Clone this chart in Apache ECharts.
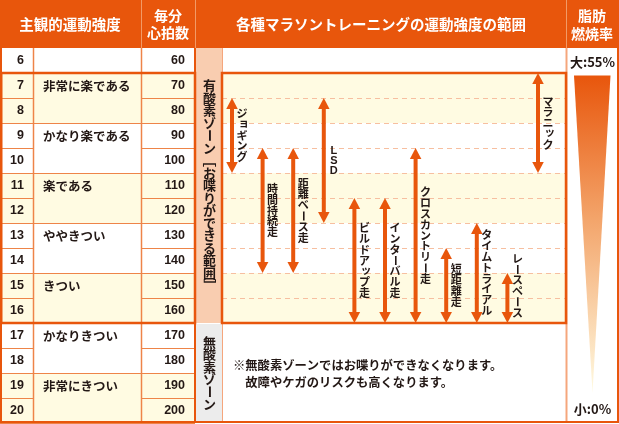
<!DOCTYPE html>
<html><head><meta charset="utf-8">
<script src="https://cdn.jsdelivr.net/npm/echarts@6/dist/echarts.min.js"></script>
<style>html,body{margin:0;padding:0;background:#fff}#c{width:619px;height:424px}</style>
</head><body><div id="c"></div>
<script>
// ---- data ----
const rpeLevels = [6,7,8,9,10,11,12,13,14,15,16,17,18,19,20];
const heartRates = [60,70,80,90,100,110,120,130,140,150,160,170,180,190,200];
const rpeGroupStart = [7,9,11,13,15,17,19];
const rpeGroupLabels = ['非常に楽である','かなり楽である','楽である','ややきつい','きつい','かなりきつい','非常にきつい'];
const trainings = ['ジョギング','時間持続走','距離ベース走','LSD','ビルドアップ走','インターバル走','クロスカントリー走','短距離走','タイムトライアル','レースペース','マラニック'];
const hrLow  = [80,100,100,80,120,120,100,140,130,150,70];
const hrHigh = [100,140,140,120,160,160,160,160,160,160,100];
const zoneLabels = ['有酸素ゾーン［お喋りができる範囲］','無酸素ゾーン'];
const zoneFrom = [60,170];
const zoneTo = [160,200];
const aerobicFrom = 70, aerobicTo = 160;
const fatLabels = ['大:55%','小:0%'];
const fatLabelRows = [60,200];
const fatTriangle = [66,193];
const headerTexts = ['主観的運動強度','毎分','心拍数','各種マラソントレーニングの運動強度の範囲','脂肪','燃焼率'];
const noteLines = ['※無酸素ゾーンではお喋りができなくなります。','　故障やケガのリスクも高くなります。'];

// ---- style ----
const ORANGE='#e8560c', LINE='#ee8448', SALMON='#f9cdb0', SEP='#f5a67c', YELLOW='#fffbe2', GRAY='#ececec', DASH='#f7bfa0', TXT='#231815';
const JP='"Noto Sans CJK JP","Noto Sans",sans-serif';
const NUM='"Liberation Sans","DejaVu Sans",sans-serif';
const C2=33, C3=141, CZ=195, CC=222, CF=566, CE=619;

function T(text,x,y,o){o=o||{};return {type:'text',x:x,y:y,rotation:o.rot||0,z2:5,style:{text:text,x:0,y:0,fill:o.fill||TXT,fontSize:o.size||13,fontWeight:o.weight||'normal',fontFamily:o.family||JP,align:o.align||'center',verticalAlign:'middle',textAlign:o.align||'center',textVerticalAlign:'middle'}};}
function R(x,y,w,h,fill){return {type:'rect',shape:{x:x,y:y,width:w,height:h},style:{fill:fill}};}
function L(x1,y1,x2,y2,stroke,w,dash){return {type:'line',shape:{x1:x1,y1:y1,x2:x2,y2:y2},style:{stroke:stroke,lineWidth:w||1,lineDash:dash||null}};}
const SMALL='ァィゥェォッャュョぁぃぅぇぉっゃゅょ';
function vtext(str,cx,cy,step,size,weight){
  const chars=Array.from(str);const top=cy-chars.length*step/2;
  return chars.map((ch,k)=>{
    let x=cx,y=top+step*k+step/2,rot=0;
    if('ー［］'.includes(ch)) rot=-Math.PI/2;
    if(SMALL.includes(ch)){x+=size*0.15;y-=size*0.15;}
    if(/[A-Za-z]/.test(ch)) return T(ch,x,y,{size:size,weight:'bold',family:NUM});
    return T(ch,x,y,{size:size,weight:weight,rot:rot});
  });
}

const chart = echarts.init(document.getElementById('c'));
const rowData = rpeLevels.map((r,i)=>[0,heartRates[i],r]);
const yAx = {type:'value',min:55,max:205,inverse:true,show:false};

const option = {
  animation:false,
  grid:[{left:0,width:619,top:48,height:375},{left:216.7,width:336.6,top:48,height:375}],
  xAxis:[{type:'value',min:0,max:619,show:false,gridIndex:0},{type:'category',data:trainings,show:false,gridIndex:1}],
  yAxis:[Object.assign({gridIndex:0},yAx),Object.assign({gridIndex:1},yAx)],
  graphic:[
    {type:'rect',z:100,shape:{x:0,y:0,width:619,height:48},style:{fill:ORANGE}},
    {type:'line',z:100,shape:{x1:C3+0.5,y1:0,x2:C3+0.5,y2:48},style:{stroke:'#f29a66',lineWidth:1}},
    {type:'line',z:100,shape:{x1:CZ+0.5,y1:0,x2:CZ+0.5,y2:48},style:{stroke:'#f29a66',lineWidth:1}},
    {type:'line',z:100,shape:{x1:CF+0.5,y1:0,x2:CF+0.5,y2:48},style:{stroke:'#f29a66',lineWidth:1}},
    Object.assign(T(headerTexts[0],70,24,{fill:'#fff',size:14.5,weight:'bold'}),{z:101}),
    Object.assign(T(headerTexts[1],168,16,{fill:'#fff',size:14,weight:'bold'}),{z:101}),
    Object.assign(T(headerTexts[2],168,33,{fill:'#fff',size:14,weight:'bold'}),{z:101}),
    Object.assign(T(headerTexts[3],381,24,{fill:'#fff',size:14.5,weight:'bold'}),{z:101}),
    Object.assign(T(headerTexts[4],592,16,{fill:'#fff',size:14,weight:'bold'}),{z:101}),
    Object.assign(T(headerTexts[5],592,34,{fill:'#fff',size:14,weight:'bold'}),{z:101}),
    Object.assign(T(noteLines[0],233,365,{size:12.3,weight:'bold',align:'left'}),{z:101}),
    Object.assign(T(noteLines[1],233,382,{size:12.3,weight:'bold',align:'left'}),{z:101})
  ],
  series:[
    { // row backgrounds
      type:'custom',xAxisIndex:0,yAxisIndex:0,z:1,data:rowData,encode:{x:0,y:1},
      renderItem:function(p,api){
        const hr=api.value(1),rpe=api.value(2);
        const yT=api.coord([0,hr-5])[1],yB=api.coord([0,hr+5])[1],h=yB-yT;
        const pair=rpe>=7?Math.floor((rpe-7)/2):-1;
        const fill=(pair>=0&&pair%2===0)?YELLOW:'#fff';
        const aer=rpe>=7&&rpe<=16;
        return {type:'group',children:[R(0,yT,CZ,h,fill),R(CC,yT,CF-CC,h,aer?fill:'#fff'),R(CF,yT,CE-CF,h,'#fff')]};
      }
    },
    { // zone column
      type:'custom',xAxisIndex:0,yAxisIndex:0,z:2,data:zoneLabels.map((t,i)=>[0,zoneFrom[i],zoneTo[i]]),encode:{x:0,y:[1,2]},
      renderItem:function(p,api){
        const i=p.dataIndex;
        const yT=api.coord([0,api.value(1)-5])[1],yB=api.coord([0,api.value(2)+5])[1];
        const ch=[R(CZ+1,yT+(i?1:0),CC-CZ-1,yB-yT-(i?1:0),i?GRAY:SALMON)];
        return {type:'group',children:ch.concat(vtext(zoneLabels[i],209.5,(yT+yB)/2,12.5,13,'bold'))};
      }
    },
    { // row lines + texts
      type:'custom',xAxisIndex:0,yAxisIndex:0,z:3,data:rowData,encode:{x:0,y:1},
      renderItem:function(p,api){
        const hr=api.value(1),rpe=api.value(2);
        const yT=api.coord([0,hr-5])[1],yB=api.coord([0,hr+5])[1],yc=(yT+yB)/2;
        const ch=[];
        const yl=yB+0.5;
        ch.push(L(0,yl,C2,yl,LINE));
        ch.push(L(C3,yl,CZ,yl,LINE));
        if(rpe===6||rpe%2===0) ch.push(L(C2,yl,C3,yl,LINE));
        if(rpe>=7&&rpe<=15) ch.push(L(CC,yl,CF,yl,DASH,1,[5,4]));
        // verticals
        ch.push(L(C2+0.5,yT,C2+0.5,yB,LINE,1.5));
        ch.push(L(C3+0.5,yT,C3+0.5,yB,LINE,1.5));
        ch.push(L(CZ,yT,CZ,yB,ORANGE,2));
        ch.push(L(CC+0.5,yT,CC+0.5,yB,SEP,1));
        ch.push(L(CF+0.5,yT,CF+0.5,yB,SEP,2));
        ch.push(L(1,yT,1,yB,ORANGE,2));
        ch.push(L(CE-1,yT,CE-1,yB,ORANGE,2));
        if(rpe===20) ch.push(L(0,yB-1,CE,yB-1,ORANGE,2));
        ch.push(T(String(rpe),24,yc+0.5,{align:'right',size:12.5,weight:'bold',family:NUM}));
        ch.push(T(String(hr),185,yc+0.5,{align:'right',size:12.5,weight:'bold',family:NUM}));
        return {type:'group',children:ch};
      }
    },
    { // RPE group labels
      type:'custom',xAxisIndex:0,yAxisIndex:0,z:4,data:rpeGroupStart.map((r,i)=>[0,heartRates[rpeLevels.indexOf(r)],i]),encode:{x:0,y:1},
      renderItem:function(p,api){
        const y=api.coord([0,api.value(1)])[1];
        return T(rpeGroupLabels[api.value(2)],43,y+0.5,{align:'left',size:12.5,weight:'bold'});
      }
    },
    { // aerobic frames
      type:'custom',xAxisIndex:0,yAxisIndex:0,z:5,data:[[0,aerobicFrom,aerobicTo]],encode:{x:0,y:[1,2]},
      renderItem:function(p,api){
        const yT=api.coord([0,api.value(1)-5])[1],yB=api.coord([0,api.value(2)+5])[1];
        const st={fill:'none',stroke:ORANGE,lineWidth:2.5};
        return {type:'group',children:[
          {type:'rect',shape:{x:1.25,y:yT,width:CZ-1.25,height:yB-yT},style:st},
          {type:'rect',shape:{x:CC,y:yT,width:CF-CC,height:yB-yT},style:st}
        ]};
      }
    },
    { // fat burning rate
      type:'custom',xAxisIndex:0,yAxisIndex:0,z:5,data:[[0,fatTriangle[0],fatTriangle[1]]],encode:{x:0,y:[1,2]},
      renderItem:function(p,api){
        const yT=api.coord([0,api.value(1)])[1],yB=api.coord([0,api.value(2)])[1];
        const ch=[{type:'polygon',shape:{points:[[574,yT],[610.5,yT],[592.5,yB]]},style:{fill:new echarts.graphic.LinearGradient(0,0,0,1,[{offset:0,color:'#e8560c'},{offset:0.45,color:'#f3a46a'},{offset:1,color:'#fffbe2'}])}}];
        fatLabels.forEach((t,k)=>{const y=api.coord([0,fatLabelRows[k]])[1];ch.push(T(t,592.5,y+(k?-1:2),{size:13,weight:'bold'}));});
        return {type:'group',children:ch};
      }
    },
    { // training arrows
      type:'custom',xAxisIndex:1,yAxisIndex:1,z:6,data:trainings.map((t,i)=>[i,hrLow[i],hrHigh[i]]),encode:{x:0,y:[1,2]},
      renderItem:function(p,api){
        const i=p.dataIndex;
        const a=api.coord([i,api.value(1)-5]),b=api.coord([i,api.value(2)+5]);
        const x=a[0],yT=a[1],yB=b[1],hh=11,hw=5.75,sw=2;
        const ch=[
          {type:'rect',shape:{x:x-sw,y:yT+hh-1,width:sw*2,height:yB-yT-2*hh+2},style:{fill:ORANGE}},
          {type:'polygon',shape:{points:[[x,yT],[x-hw,yT+hh],[x+hw,yT+hh]]},style:{fill:ORANGE}},
          {type:'polygon',shape:{points:[[x,yB],[x-hw,yB-hh],[x+hw,yB-hh]]},style:{fill:ORANGE}}
        ];
        const str=trainings[i];const n=Array.from(str).length;const step=/^[A-Z]+$/.test(str)?10:10.8;
        let cy=(yT+yB)/2;const half=n*step/2;
        if(cy+half>yB-5) cy=yB-5-half;
        return {type:'group',children:ch.concat(vtext(str,x+10,cy,step,11,'bold'))};
      }
    }
  ]
};
chart.setOption(option);
</script></body></html>
